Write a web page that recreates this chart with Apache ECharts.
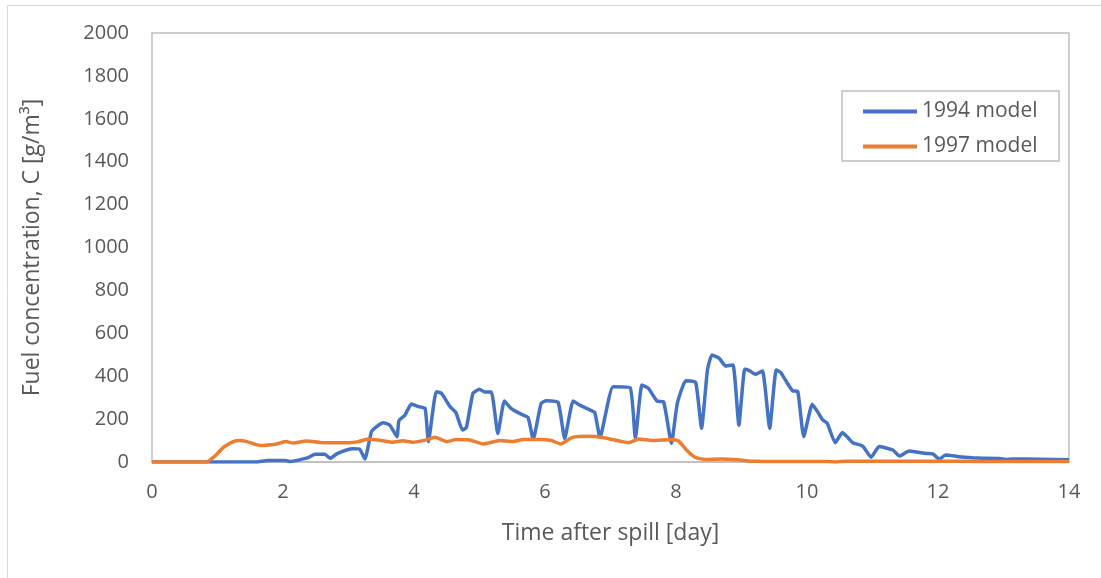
<!DOCTYPE html>
<html>
<head>
<meta charset="utf-8">
<script src="https://cdn.jsdelivr.net/npm/echarts@6/dist/echarts.min.js"></script>
<style>
  html, body { margin: 0; padding: 0; background: #fff; }
  #chart { width: 1101px; height: 578px; }
</style>
</head>
<body>
<div id="chart"></div>
<script>
// 1994 model (time [day], concentration [g/m3])
var t1994 = [0, 1.6, 1.76, 2.04, 2.1, 2.25, 2.38, 2.49, 2.64, 2.72, 2.82, 2.97, 3.07, 3.17, 3.25, 3.35, 3.43, 3.53, 3.63, 3.74,
  3.77, 3.86, 3.96, 4.07, 4.17, 4.22, 4.34, 4.42, 4.55, 4.64, 4.74, 4.8, 4.9, 5.0, 5.08, 5.18, 5.28, 5.38, 5.48, 5.61,
  5.74, 5.82, 5.94, 6.02, 6.2, 6.3, 6.43, 6.53, 6.69, 6.76, 6.84, 7.04, 7.3, 7.38, 7.48, 7.58, 7.71, 7.81, 7.93, 8.02,
  8.15, 8.3, 8.39, 8.48, 8.55, 8.66, 8.76, 8.87, 8.96, 9.05, 9.12, 9.21, 9.32, 9.43, 9.53, 9.6, 9.7, 9.78, 9.86, 9.95,
  10.08, 10.16, 10.24, 10.31, 10.43, 10.54, 10.62, 10.7, 10.85, 10.98, 11.1, 11.31, 11.41, 11.56, 11.82, 11.92, 12.02, 12.12, 12.32, 12.53,
  12.68, 12.94, 13.04, 13.14, 13.55, 14.0];
var c1994 = [0, 0, 7, 7, 2, 10, 20, 36, 36, 17, 38, 56, 62, 60, 14, 141, 165, 183, 172, 118,
  193, 218, 270, 258, 250, 95, 328, 320, 258, 230, 149, 161, 320, 339, 326, 326, 133, 284, 250, 227,
  208, 107, 273, 286, 278, 110, 284, 265, 242, 230, 115, 351, 346, 110, 359, 343, 284, 281, 87, 273,
  379, 371, 157, 429, 499, 483, 447, 452, 172, 432, 426, 409, 424, 157, 429, 417, 367, 332, 328, 118,
  269, 235, 196, 180, 90, 137, 115, 90, 74, 22, 72, 56, 28, 51, 40, 38, 14, 33, 25, 20,
  18, 16, 12, 14, 13, 10];

// 1997 model
var t1997 = [0, 0.83, 0.95, 1.1, 1.24, 1.34, 1.45, 1.65, 1.9, 2.05, 2.15, 2.36, 2.61, 3.02, 3.15, 3.3, 3.53, 3.67, 3.83, 3.98,
  4.19, 4.32, 4.5, 4.64, 4.85, 5.06, 5.31, 5.51, 5.66, 5.92, 6.1, 6.24, 6.42, 6.67, 6.88, 7.18, 7.28, 7.43, 7.64, 7.94,
  8.04, 8.16, 8.29, 8.44, 8.7, 8.95, 9.2, 9.6, 10.3, 10.45, 10.6, 12.0, 12.6, 14.0];
var c1997 = [0, 0, 25, 70, 95, 100, 95, 77, 84, 95, 88, 98, 90, 90, 95, 107, 99, 92, 99, 92,
  103, 115, 95, 105, 103, 84, 100, 95, 105, 105, 100, 84, 115, 120, 114, 95, 90, 107, 100, 105,
  98, 56, 22, 12, 14, 10, 3, 2, 2, 0, 4, 4, 2, 2];

var xTicks = [0, 2, 4, 6, 8, 10, 12, 14];
var yTicks = [0, 200, 400, 600, 800, 1000, 1200, 1400, 1600, 1800, 2000];

function pairs(t, c) {
  return t.map(function (v, i) { return [v, c[i]]; });
}

var myChart = echarts.init(document.getElementById('chart'));
var font = '"Open Sans", "Noto Sans", sans-serif';
var txt = '#595959';
var option = {
  animation: false,
  textStyle: { fontFamily: font },
  graphic: [
    {
      // chart frame
      type: 'rect',
      shape: { x: 7.5, y: 5.5, width: 1100, height: 600 },
      style: { fill: 'none', stroke: '#d9d9d9', lineWidth: 1 },
      silent: true
    },
    {
      // legend box
      type: 'rect',
      shape: { x: 842, y: 91, width: 217, height: 70 },
      style: { fill: '#fff', stroke: '#bfbfbf', lineWidth: 1.5 },
      z: 0,
      silent: true
    }
  ],
  grid: {
    left: 152, right: 32, top: 33, bottom: 116,
    show: true, borderColor: '#bfbfbf', borderWidth: 1.5, containLabel: false
  },
  legend: {
    orient: 'vertical',
    left: 842, top: 91,
    padding: [10, 10, 7, 21],
    itemWidth: 54, itemHeight: 4, itemGap: 14,
    icon: 'rect',
    z: 5,
    textStyle: { color: txt, fontSize: 21, fontFamily: font },
    data: ['1994 model', '1997 model']
  },
  xAxis: {
    type: 'value',
    min: xTicks[0], max: xTicks[xTicks.length - 1], interval: 2,
    name: 'Time after spill [day]',
    nameLocation: 'middle', nameGap: 60,
    nameTextStyle: { color: txt, fontSize: 23, fontFamily: font },
    axisLine: { lineStyle: { color: '#bfbfbf', width: 1.5 } },
    axisTick: { show: false },
    axisLabel: { color: txt, fontSize: 20, margin: 20 },
    splitLine: { show: false }
  },
  yAxis: {
    type: 'value',
    min: yTicks[0], max: yTicks[yTicks.length - 1], interval: 200,
    name: 'Fuel concentration, C [g/m\u00b3]',
    nameLocation: 'middle', nameGap: 108,
    nameTextStyle: { color: txt, fontSize: 23, fontFamily: font },
    axisLine: { show: false },
    axisTick: { show: false },
    axisLabel: {
      color: txt, fontSize: 20, margin: 23,
      formatter: function (v) { return String(v); }
    },
    splitLine: { show: false }
  },
  series: [
    {
      name: '1994 model',
      type: 'line',
      data: pairs(t1994, c1994),
      showSymbol: false,
      smooth: 0.15,
      color: '#4472c4',
      lineStyle: { color: '#4472c4', width: 3.5 }
    },
    {
      name: '1997 model',
      type: 'line',
      data: pairs(t1997, c1997),
      showSymbol: false,
      smooth: 0.15,
      color: '#ed7d31',
      lineStyle: { color: '#ed7d31', width: 3.5 }
    }
  ]
};
myChart.setOption(option);
window.addEventListener('resize', function () {
  myChart.resize();
});
</script>
</body>
</html>
